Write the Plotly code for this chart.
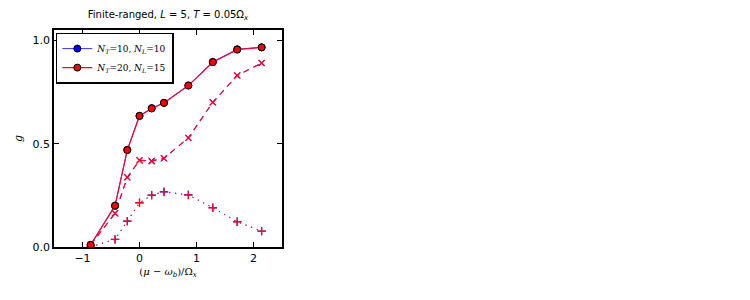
import plotly.graph_objects as go

x = [-0.857, -0.429, -0.214, 0.0, 0.214, 0.429, 0.857, 1.286, 1.714, 2.143]

# N_T=10, N_L=10 (blue)
g_solid_blue = [0.01, 0.20, 0.47, 0.635, 0.672, 0.698, 0.782, 0.896, 0.957, 0.966]
g_dash_blue = [0.01, 0.163, 0.337, 0.418, 0.418, 0.428, 0.528, 0.70, 0.83, 0.89]
g_dot_blue = [0.0, 0.037, 0.125, 0.214, 0.251, 0.266, 0.253, 0.19, 0.122, 0.077]

# N_T=20, N_L=15 (red)
g_solid_red = [0.01, 0.20, 0.469, 0.634, 0.670, 0.697, 0.781, 0.894, 0.955, 0.966]
g_dash_red = [0.01, 0.163, 0.337, 0.42, 0.415, 0.43, 0.528, 0.70, 0.83, 0.89]
g_dot_red = [0.0, 0.037, 0.125, 0.214, 0.251, 0.268, 0.251, 0.19, 0.122, 0.077]

x_ticks = [-1, 0, 1, 2]
x_tick_text = ["\u22121", "0", "1", "2"]
y_ticks = [0.0, 0.5, 1.0]
y_tick_text = ["0.0", "0.5", "1.0"]

BLUE = "#0000ff"
RED = "#ff0000"
RED_LINE = "rgb(245,0,45)"

fig = go.Figure()

# blue series
fig.add_trace(go.Scatter(x=x, y=g_dot_blue, mode="lines+markers",
                         line=dict(color=BLUE, width=1, dash="1px,5px"),
                         marker=dict(symbol="cross-thin", size=6, line=dict(color=BLUE, width=1)),
                         showlegend=False))
fig.add_trace(go.Scatter(x=x, y=g_dash_blue, mode="lines+markers",
                         line=dict(color=BLUE, width=0.8, dash="6px,5px"),
                         marker=dict(symbol="x-thin", size=6, line=dict(color=BLUE, width=1)),
                         showlegend=False))
fig.add_trace(go.Scatter(x=x, y=g_solid_blue, mode="lines+markers",
                         line=dict(color=BLUE, width=0.8),
                         marker=dict(symbol="circle", size=7, color=BLUE, line=dict(color="black", width=1)),
                         name="<i>N<sub>T</sub></i>=10, <i>N<sub>L</sub></i>=10"))

# red series
fig.add_trace(go.Scatter(x=x, y=g_dot_red, mode="lines+markers",
                         line=dict(color=RED_LINE, width=1.3, dash="1px,5px"),
                         marker=dict(symbol="cross-thin", size=6, line=dict(color=RED_LINE, width=1.4)),
                         showlegend=False))
fig.add_trace(go.Scatter(x=x, y=g_dash_red, mode="lines+markers",
                         line=dict(color=RED_LINE, width=1.2, dash="6px,5px"),
                         marker=dict(symbol="x-thin", size=6, line=dict(color=RED_LINE, width=1.4)),
                         showlegend=False))
fig.add_trace(go.Scatter(x=x, y=g_solid_red, mode="lines+markers",
                         line=dict(color=RED_LINE, width=1.2),
                         marker=dict(symbol="circle", size=7, color=RED, line=dict(color="black", width=1)),
                         name="<i>N<sub>T</sub></i>=20, <i>N<sub>L</sub></i>=15"))

axis_common = dict(
    showline=True, linecolor="black", linewidth=1.5, mirror="ticks",
    ticks="inside", ticklen=5, tickcolor="black", tickwidth=1,
    showgrid=False, zeroline=False, automargin=False,
    tickfont=dict(family="DejaVu Sans", size=11, color="black"),
)

# page has an 8px body margin: figure is offset by (8, 8)
fig.update_layout(
    width=742, height=292,
    paper_bgcolor="white", plot_bgcolor="white",
    margin=dict(l=46, r=468, t=22, b=53),
    title=dict(text="Finite-ranged, <i>L</i> = 5, <i>T</i> = 0.05Ω<sub><i>x</i></sub>",
               x=(46 + 274) / 2 / 742, xanchor="center", y=1 - 6 / 292, yanchor="middle",
               font=dict(family="DejaVu Sans", size=10, color="black")),
    xaxis=dict(range=[-1.5, 2.5], tickvals=x_ticks, ticktext=x_tick_text,
               title=dict(text="(<i>μ</i> − <i>ω<sub>b</sub></i>)/Ω<sub><i>x</i></sub>",
                          font=dict(family="DejaVu Serif", size=10, color="black"), standoff=4),
               **axis_common),
    yaxis=dict(range=[0, 1.05], tickvals=y_ticks, ticktext=y_tick_text,
               title=dict(text="<i>g</i>", font=dict(family="DejaVu Serif", size=11, color="black"), standoff=8),
               **axis_common),
    legend=dict(x=0.008, y=0.988, xanchor="left", yanchor="top",
                bgcolor="white", bordercolor="black", borderwidth=1.5,
                font=dict(family="DejaVu Serif", size=9, color="black"),
                tracegroupgap=0, itemwidth=30),
)

fig.write_html("out.html")
